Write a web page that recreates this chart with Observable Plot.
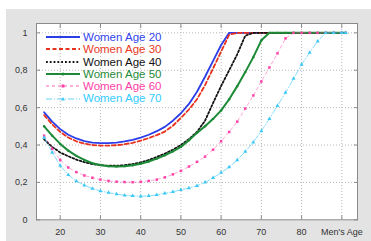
<!DOCTYPE html>
<html><head><meta charset="utf-8">
<script src="https://cdn.jsdelivr.net/npm/d3@7"></script>
<script src="https://cdn.jsdelivr.net/npm/@observablehq/plot@0.6"></script>
<style>
body{margin:0;background:#fff;}
#wrap{position:relative;width:371px;height:241px;overflow:hidden;}
#bg{position:absolute;left:6px;top:9px;width:365px;height:232px;background:#e3e3e3;}
#chart{position:absolute;left:0;top:0;}
#legend{position:absolute;left:46px;top:31px;font-family:"Liberation Sans",Arial,sans-serif;font-size:11.5px;line-height:12.3px;}
.row{height:12.3px;display:flex;align-items:center;white-space:nowrap;}
.row svg{margin-right:3px;flex:none;}
</style></head><body>
<div id="wrap"><div id="bg"></div><div id="chart"></div><div id="legend"></div></div>
<script>
const ages = [16,18,20,22,24,26,28,30,32,34,36,38,40,42,44,46,48,50,52,54,56,58,60,62,64,66,68,70,72,74,76,78,80,82,84,86,88,90,91];
const women20 = [0.575,0.525,0.485,0.455,0.435,0.421,0.413,0.41,0.41,0.413,0.419,0.428,0.44,0.455,0.474,0.497,0.53,0.57,0.62,0.685,0.765,0.85,0.935,1,1,1,1,1,1,1,1,1,1,1,1,1,1,1,1];
const women30 = [0.56,0.51,0.47,0.44,0.42,0.407,0.4,0.397,0.397,0.399,0.404,0.412,0.423,0.437,0.453,0.472,0.503,0.545,0.59,0.645,0.72,0.81,0.9,0.99,1,1,1,1,1,1,1,1,1,1,1,1,1,1,1];
const women40 = [0.43,0.39,0.36,0.34,0.322,0.308,0.298,0.292,0.289,0.289,0.292,0.298,0.307,0.32,0.336,0.354,0.375,0.4,0.432,0.47,0.53,0.625,0.716,0.8,0.885,0.985,1,1,1,1,1,1,1,1,1,1,1,1,1];
const women50 = [0.5,0.45,0.406,0.37,0.342,0.32,0.303,0.293,0.287,0.285,0.287,0.292,0.3,0.312,0.327,0.345,0.366,0.39,0.425,0.465,0.5,0.54,0.585,0.645,0.715,0.79,0.87,0.96,1,1,1,1,1,1,1,1,1,1,1];
const women60 = [0.45,0.38,0.32,0.28,0.255,0.237,0.225,0.215,0.208,0.204,0.202,0.201,0.203,0.208,0.215,0.227,0.243,0.262,0.285,0.31,0.338,0.375,0.42,0.47,0.525,0.595,0.665,0.74,0.815,0.89,0.97,1,1,1,1,1,1,1,1];
const women70 = [0.44,0.36,0.29,0.24,0.207,0.185,0.167,0.154,0.145,0.137,0.131,0.128,0.126,0.128,0.133,0.141,0.15,0.16,0.17,0.182,0.2,0.225,0.252,0.282,0.32,0.365,0.415,0.475,0.54,0.61,0.68,0.755,0.83,0.895,0.955,1,1,1,1];

const seriesNames = ["Women Age 20","Women Age 30","Women Age 40","Women Age 50","Women Age 60","Women Age 70"];
const xTicks = [20,30,40,50,60,70,80,90];
const xTickLabels = ["20","30","40","50","60","70","80","Men's Age"];
const yTicks = [0,0.2,0.4,0.6,0.8,1];
const yTickLabels = ["0","0,2","0,4","0,6","0,8","1"];

const valuesList = [women20,women30,women40,women50,women60,women70];
const styles = [
  {color:"#2a3de8", textColor:"#3344ee", width:1.8, dash:null, symbol:null},
  {color:"#e8321c", textColor:"#e8391f", width:1.8, dash:"4,2.5", symbol:null},
  {color:"#111111", textColor:"#111111", width:1.8, dash:"1.8,2", symbol:null},
  {color:"#1c8a36", textColor:"#1f8a3a", width:2, dash:null, symbol:"circle", r:1.2},
  {color:"#ff3fa6", textColor:"#ff3fa6", width:0.8, dash:"3,3", symbol:"square", r:1.4, lineOpacity:0.6},
  {color:"#3cc8f5", textColor:"#33ccff", width:0.8, dash:"6,2,1,2", symbol:"triangle", r:1.5, lineOpacity:0.8}
];

const marks = [
  Plot.frame({fill:"white", stroke:null}),
  Plot.gridX(xTicks, {stroke:"#b8b8b8", strokeOpacity:1, strokeDasharray:"1,2"}),
  Plot.gridY(yTicks.filter(d => d > 0), {stroke:"#b8b8b8", strokeOpacity:1, strokeDasharray:"1,2"})
];
valuesList.forEach((vals, i) => {
  const s = styles[i];
  const data = ages.map((a, j) => ({age:a, value:vals[j]}));
  marks.push(Plot.line(data, {x:"age", y:"value", stroke:s.color, strokeWidth:s.width, strokeDasharray:s.dash, strokeOpacity:s.lineOpacity ?? 1}));
  if (s.symbol) marks.push(Plot.dot(data, {x:"age", y:"value", symbol:s.symbol, r:s.r, fill:s.color, stroke:null}));
});
marks.push(
  Plot.frame({stroke:"#8a8a8a"}),
  Plot.axisX({ticks:xTicks, anchor:"bottom", tickSize:0, tickPadding:9, tickFormat:d => xTickLabels[xTicks.indexOf(d)], fontSize:9, label:null}),
  Plot.axisX({ticks:xTicks, anchor:"bottom", tickSize:-4, tickFormat:() => "", stroke:"#8a8a8a", label:null}),
  Plot.axisX({ticks:xTicks, anchor:"top", tickSize:-4, tickFormat:() => "", stroke:"#8a8a8a", label:null}),
  Plot.axisY({ticks:yTicks, anchor:"left", tickSize:0, tickPadding:9, tickFormat:d => yTickLabels[yTicks.indexOf(d)], fontSize:9, label:null}),
  Plot.axisY({ticks:yTicks, anchor:"left", tickSize:-4, tickFormat:() => "", stroke:"#8a8a8a", label:null}),
  Plot.axisY({ticks:yTicks, anchor:"right", tickSize:-4, tickFormat:() => "", stroke:"#8a8a8a", label:null})
);

const chart = Plot.plot({
  width:371, height:241,
  marginLeft:36, marginRight:14, marginTop:23, marginBottom:21.7,
  x:{domain:[14.1, 93.9], label:null},
  y:{domain:[0, 1.05], label:null},
  style:{background:"transparent", color:"#333", fontFamily:"'Liberation Sans', Arial, sans-serif", overflow:"visible"},
  marks
});
document.getElementById("chart").appendChild(chart);

const legend = document.getElementById("legend");
seriesNames.forEach((name, i) => {
  const s = styles[i];
  const row = document.createElement("div");
  row.className = "row";
  let marker = "";
  if (s.symbol === "circle") marker = `<circle cx="17" cy="4" r="1.5" fill="${s.color}"/>`;
  if (s.symbol === "square") marker = `<rect x="15.5" y="2.5" width="3" height="3" fill="${s.color}"/>`;
  if (s.symbol === "triangle") marker = `<path d="M17,2 L19,5.5 L15,5.5 Z" fill="${s.color}"/>`;
  row.innerHTML = `<svg width="34" height="8"><line x1="0" y1="4" x2="34" y2="4" stroke="${s.color}" stroke-width="${s.width}" ${s.dash ? `stroke-dasharray="${s.dash}"` : ""}/>${marker}</svg><span style="color:${s.textColor}">${name}</span>`;
  legend.appendChild(row);
});
</script>
</body></html>
